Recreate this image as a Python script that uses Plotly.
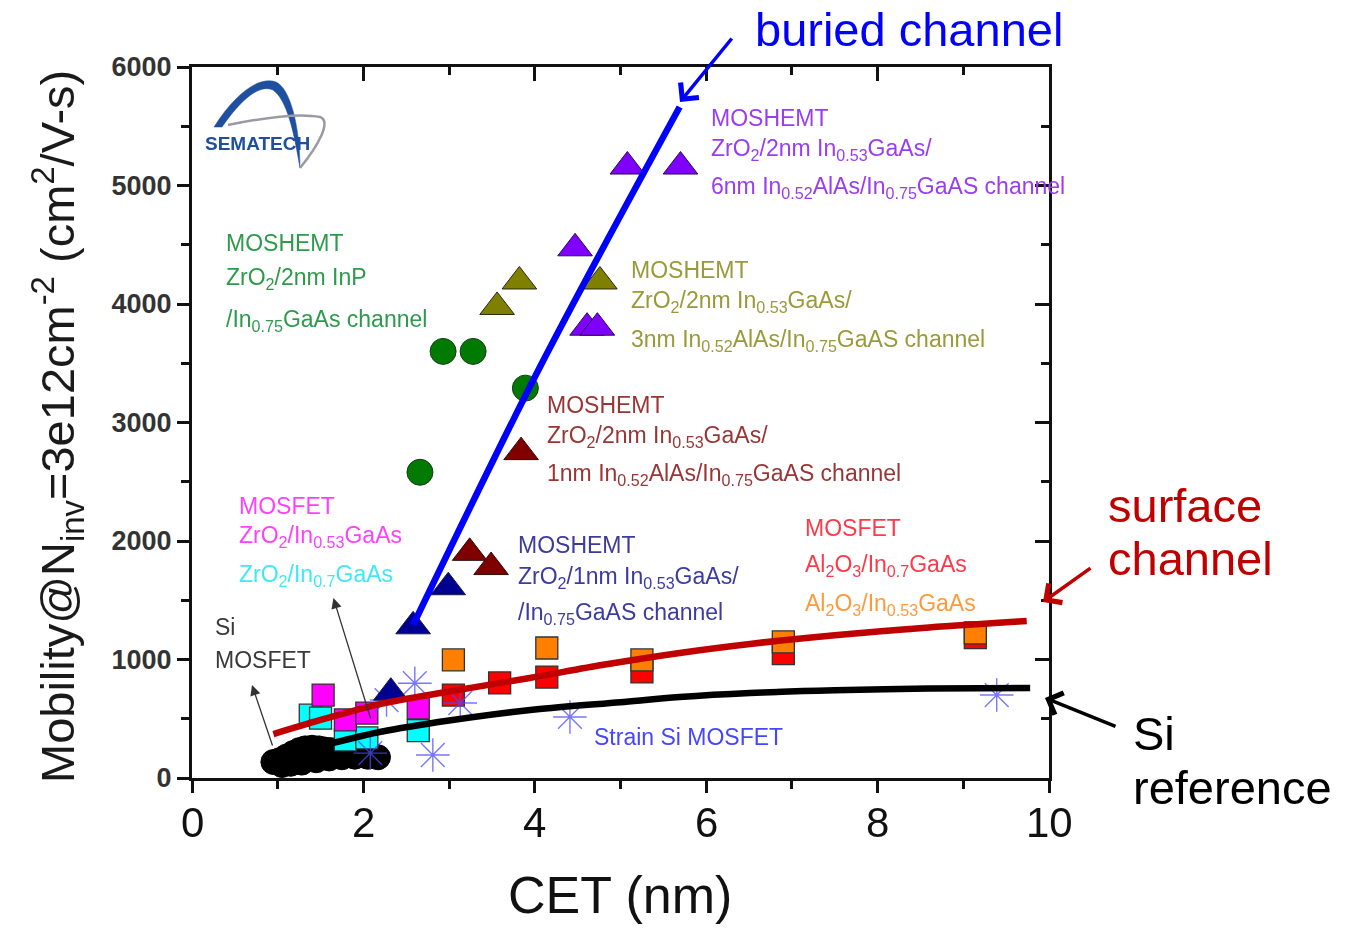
import plotly.graph_objects as go

# ---------------- data (CET in nm, mobility in cm^2/V-s) ----------------
# MOSHEMT ZrO2/2nm In0.53GaAs/6nm In0.52AlAs/In0.75GaAs channel
vio_x = [5.08, 5.70, 4.47, 4.61, 4.73]
vio_y = [5160, 5160, 4470, 3800, 3800]
# MOSHEMT ZrO2/2nm In0.53GaAs/3nm In0.52AlAs/In0.75GaAs channel
oli_x = [3.56, 3.82, 4.76]
oli_y = [3975, 4190, 4190]
# MOSHEMT ZrO2/2nm InP/In0.75GaAs channel
grn_x = [2.93, 3.28, 3.89, 2.66]
grn_y = [3600, 3600, 3290, 2580]
# MOSHEMT ZrO2/2nm In0.53GaAs/1nm In0.52AlAs/In0.75GaAs channel
mar_x = [3.84, 3.24, 3.49]
mar_y = [2750, 1900, 1780]
# MOSHEMT ZrO2/1nm In0.53GaAs/In0.75GaAs channel
nav_x = [2.99, 2.58, 2.32]
nav_y = [1610, 1280, 720]
# MOSFET Al2O3/In0.7GaAs
red_x = [3.05, 3.59, 4.14, 5.25, 6.90, 9.14]
red_y = [700, 802, 852, 895, 1050, 1185]
# MOSFET Al2O3/In0.53GaAs
org_x = [3.05, 4.14, 5.25, 6.90, 9.14]
org_y = [996, 1097, 996, 1148, 1225]
# MOSFET ZrO2/In0.53GaAs
mag_x = [1.53, 1.79, 2.04, 2.64]
mag_y = [700, 490, 548, 592]
# MOSFET ZrO2/In0.7GaAs
cyn_x = [1.38, 1.50, 1.79, 2.04, 2.64]
cyn_y = [530, 505, 321, 338, 400]
# Strain Si MOSFET
ssi_x = [2.08, 2.27, 2.60, 2.81, 3.13, 4.41, 9.39]
ssi_y = [210, 658, 800, 194, 633, 515, 700]
# Si MOSFET
si_x = [0.95, 1.02, 1.10, 1.18, 1.25, 1.32, 1.40, 1.48, 1.55, 1.62,
        1.70, 1.78, 1.86, 1.94, 2.02, 2.10, 2.17, 1.05, 1.15, 1.28,
        1.45, 1.60, 1.75, 1.90, 2.05]
si_y = [135, 150, 180, 210, 235, 250, 255, 250, 240, 235,
        225, 220, 215, 210, 205, 190, 175, 110, 120, 130,
        150, 165, 175, 180, 180]

# trend curves
buried_x = [2.58, 4.06, 5.69]
buried_y = [1291, 3468, 5662]
surface_x = [0.95, 1.5, 2.19, 3.0, 3.94, 4.8, 5.69, 6.51, 7.5, 8.6, 9.74]
surface_y = [371, 490, 624, 730, 844, 955, 1055, 1131, 1205, 1271, 1325]
siref_x = [1.30, 1.69, 2.19, 3.0, 4.0, 5.0, 5.69, 6.51, 7.5, 8.6, 9.78]
siref_y = [240, 304, 388, 485, 578, 640, 683, 717, 740, 755, 760]

x_ticks = [0, 2, 4, 6, 8, 10]
y_ticks = [0, 1000, 2000, 3000, 4000, 5000, 6000]

# ---------------- layout geometry ----------------
W, H = 1349, 928
ML, MR, MT, MB = 192, 300, 67, 150
PW, PH = W - ML - MR, H - MT - MB

ARIAL = "Arial, Liberation Sans, sans-serif"


def paper(px, py):
    """pixel position on the page -> paper coordinates"""
    return (px - ML) / PW, (H - MB - py) / PH


fig = go.Figure()


def markers(x, y, symbol, size, color, line_color="#222222", line_width=1.2, opacity=1.0):
    fig.add_trace(go.Scatter(
        x=x, y=y, mode="markers", cliponaxis=False, opacity=opacity,
        marker=dict(symbol=symbol, size=size, color=color,
                    line=dict(color=line_color, width=line_width)),
        hoverinfo="x+y"))


markers(si_x, si_y, "circle", 25, "#000000", "#000000", 1)
markers(cyn_x, cyn_y, "square", 22, "#00ffff", "#333333", 1.3)
markers(mag_x, mag_y, "square", 22, "#ff00ff", "#333333", 1.3)
markers(red_x, red_y, "square", 22, "#ff0000", "#333333", 1.3)
markers(org_x, org_y, "square", 22, "#ff8000", "#333333", 1.3)
markers(ssi_x, ssi_y, "asterisk-open", 28, "#4a4aff", "#4a4aff", 1.4, 0.75)
markers(nav_x, nav_y, "triangle-up", 30, "#000090", "#1a1a40", 1)
markers(mar_x, mar_y, "triangle-up", 30, "#800000", "#2a1010", 1)
markers(grn_x, grn_y, "circle", 26, "#007a00", "#1d3a1d", 1)
markers(oli_x, oli_y, "triangle-up", 30, "#808000", "#2a2a10", 1)
markers(vio_x, vio_y, "triangle-up", 30, "#8000ff", "#2a1040", 1)

# trend lines drawn on top of the symbols
for cx, cy, col in [(siref_x, siref_y, "#000000"),
                    (surface_x, surface_y, "#c00000"),
                    (buried_x, buried_y, "#0000ff")]:
    fig.add_trace(go.Scatter(x=cx, y=cy, mode="lines", cliponaxis=False,
                             line=dict(color=col, width=6.5, shape="spline", smoothing=0.9),
                             hoverinfo="skip"))

# carrier for the mirrored top / right axes
fig.add_trace(go.Scatter(x=[], y=[], xaxis="x2", yaxis="y2", showlegend=False))

# ---------------- in-plot labels ----------------
S2 = "<sub>2</sub>"
groups = [
    ("#9b3cf5", 6.03, [("MOSHEMT", 5570),
                       (f"ZrO{S2}/2nm In<sub>0.53</sub>GaAs/", 5300),
                       ("6nm In<sub>0.52</sub>AlAs/In<sub>0.75</sub>GaAS channel", 4979)]),
    ("#9a9a3a", 5.10, [("MOSHEMT", 4287),
                       (f"ZrO{S2}/2nm In<sub>0.53</sub>GaAs/", 4017),
                       ("3nm In<sub>0.52</sub>AlAs/In<sub>0.75</sub>GaAS channel", 3696)]),
    ("#2e9a4c", 0.37, [("MOSHEMT", 4515),
                       (f"ZrO{S2}/2nm InP", 4219),
                       ("/In<sub>0.75</sub>GaAs channel", 3865)]),
    ("#9a3535", 4.12, [("MOSHEMT", 3148),
                       (f"ZrO{S2}/2nm In<sub>0.53</sub>GaAs/", 2878),
                       ("1nm In<sub>0.52</sub>AlAs/In<sub>0.75</sub>GaAS channel", 2565)]),
    ("#3b3ba0", 3.78, [("MOSHEMT", 1966),
                       (f"ZrO{S2}/1nm In<sub>0.53</sub>GaAs/", 1688),
                       ("/In<sub>0.75</sub>GaAS channel", 1392)]),
    ("#ff40ff", 0.53, [("MOSFET", 2295),
                       (f"ZrO{S2}/In<sub>0.53</sub>GaAs", 2042)]),
    ("#3ee8f5", 0.53, [(f"ZrO{S2}/In<sub>0.7</sub>GaAs", 1705)]),
    ("#3a3a3a", 0.25, [("Si", 1274), ("MOSFET", 996)]),
    ("#ff3a48", 7.13, [("MOSFET", 2110),
                       ("Al<sub>2</sub>O<sub>3</sub>/In<sub>0.7</sub>GaAs", 1797)]),
    ("#ff9a3a", 7.13, [("Al<sub>2</sub>O<sub>3</sub>/In<sub>0.53</sub>GaAs", 1460)]),
    ("#4646ff", 4.67, [("Strain Si MOSFET", 346)]),
]
for col, gx, lines in groups:
    for txt, gy in lines:
        fig.add_annotation(x=gx, y=gy, xref="x", yref="y", text=txt, showarrow=False,
                           xanchor="left", yanchor="middle",
                           font=dict(family=ARIAL, size=23, color=col))

# thin pointers from the Si / ZrO2 labels
for hx, hy, tx, ty in [(0.70, 785, 0.945, 262), (1.65, 1519, 2.09, 489)]:
    fig.add_annotation(x=hx, y=hy, xref="x", yref="y", ax=tx, ay=ty, axref="x", ayref="y",
                       text="", showarrow=True, arrowhead=2, arrowsize=1.6,
                       arrowwidth=1.3, arrowcolor="#333333", standoff=0)

# ---------------- outside call-outs ----------------
BIG = 47
for txt, px, py, col in [("buried channel", 753, 30, "#0000ff"),
                         ("surface", 1106, 505, "#c00000"),
                         ("channel", 1106, 558, "#c00000"),
                         ("Si", 1131, 733, "#000000"),
                         ("reference", 1131, 788, "#000000")]:
    ux, uy = paper(px, py)
    fig.add_annotation(x=ux, y=uy, xref="paper", yref="paper", text=txt, showarrow=False,
                       xanchor="left", yanchor="middle",
                       font=dict(family=ARIAL, size=BIG, color=col))

for hx, hy, tx, ty, col, wd in [(680, 102, 733, 37, "#0000ff", 3.5),
                                (1043, 602, 1092, 567, "#c00000", 3.5),
                                (1045, 698, 1117, 727, "#000000", 3.5)]:
    ux, uy = paper(hx, hy)
    fig.add_annotation(x=ux, y=uy, xref="paper", yref="paper", ax=tx - hx, ay=ty - hy,
                       text="", showarrow=True, arrowhead=4, arrowsize=1.3,
                       arrowwidth=wd, arrowcolor=col, standoff=0)

# x tick labels placed just under the axis
_, tick_y = paper(0, 823)
for v in x_ticks:
    fig.add_annotation(x=v, y=tick_y, xref="x", yref="paper", text=str(v), showarrow=False,
                       xanchor="center", yanchor="middle",
                       font=dict(family=ARIAL, size=42, color="#111111"))

# axis titles
tx, ty = paper(57, 427)
fig.add_annotation(x=tx, y=ty, xref="paper", yref="paper", textangle=-90, showarrow=False,
                   text="Mobility@N<sub>inv</sub>=3e12cm<sup>-2</sup> (cm<sup>2</sup>/V-s)",
                   xanchor="center", yanchor="middle",
                   font=dict(family=ARIAL, size=47, color="#1a1a1a"))
tx, ty = paper(620, 895)
fig.add_annotation(x=tx, y=ty, xref="paper", yref="paper", text="CET (nm)", showarrow=False,
                   xanchor="center", yanchor="middle",
                   font=dict(family=ARIAL, size=52, color="#111111"))

# ---------------- SEMATECH badge ----------------
def path(cmds):
    out = []
    for c in cmds:
        if isinstance(c, str):
            out.append(c)
        else:
            x, y = paper(*c)
            out.append(f"{x:.5f},{y:.5f}")
    return " ".join(out)


fig.add_shape(type="path", xref="paper", yref="paper", layer="above",
              path=path(["M", (214, 127), "C", (236, 92), (260, 76), (276, 82),
                         "C", (290, 88), (300, 126), (300, 168),
                         "C", (294, 132), (287, 100), (273, 90),
                         "C", (260, 84), (242, 98), (222, 127), "Z"]),
              fillcolor="#1f4f9f", line=dict(color="#1f4f9f", width=0.5))
fig.add_shape(type="path", xref="paper", yref="paper", layer="above",
              path=path(["M", (228, 125), "C", (262, 118), (300, 113), (320, 117),
                         "C", (332, 121), (318, 146), (300, 168)]),
              line=dict(color="#9a9aa6", width=2.5))
lx, ly = paper(257, 143)
fig.add_annotation(x=lx, y=ly, xref="paper", yref="paper", text="<b>SEMATECH</b>",
                   showarrow=False, xanchor="center", yanchor="middle",
                   font=dict(family=ARIAL, size=19, color="#1f4f9f"))

# ---------------- axes ----------------
AX = "#111111"
common = dict(showgrid=False, zeroline=False, showline=True, linecolor=AX, linewidth=3,
              tickcolor=AX, tickwidth=2.5)
fig.update_layout(
    width=W, height=H,
    margin=dict(l=ML, r=MR, t=MT, b=MB, autoexpand=False),
    paper_bgcolor="white", plot_bgcolor="white", showlegend=False,
    xaxis=dict(range=[0, 10], tickvals=x_ticks, ticks="outside", ticklen=12,
               showticklabels=False,
               minor=dict(dtick=1, ticks="outside", ticklen=8, tickwidth=2.5, tickcolor=AX),
               **common),
    yaxis=dict(range=[0, 6000], tickvals=y_ticks, ticks="outside", ticklen=12,
               minor=dict(dtick=500, ticks="outside", ticklen=8, tickwidth=2.5, tickcolor=AX),
               tickfont=dict(family=ARIAL, size=27, color="#333333", weight="bold"), **common),
    xaxis2=dict(range=[0, 10], tickvals=x_ticks, overlaying="x", side="top", anchor="y2",
                ticks="inside", ticklen=14, showticklabels=False,
                minor=dict(dtick=1, ticks="inside", ticklen=8, tickwidth=2.5, tickcolor=AX),
                **common),
    yaxis2=dict(range=[0, 6000], tickvals=y_ticks, overlaying="y", side="right", anchor="x2",
                ticks="inside", ticklen=14, showticklabels=False,
                minor=dict(dtick=500, ticks="inside", ticklen=8, tickwidth=2.5, tickcolor=AX),
                **common),
)

fig.write_html("out.html")
